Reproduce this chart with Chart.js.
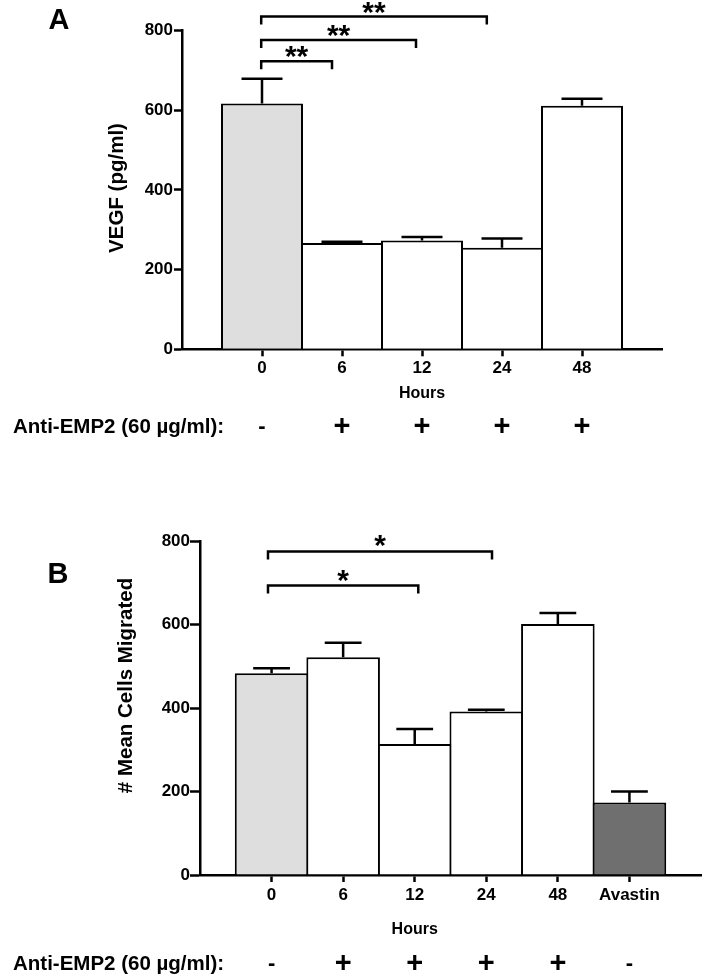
<!DOCTYPE html>
<html>
<head>
<meta charset="utf-8">
<title>VEGF / migração</title>
<script src="https://cdn.jsdelivr.net/npm/chart.js@4.4.1/dist/chart.umd.min.js"></script>
<style>
  html, body { margin: 0; padding: 0; background: #fff; }
  .panel { position: absolute; left: 0; width: 703px; }
</style>
</head>
<body>
<div class="panel" style="top:0;height:488px"><canvas id="chart-a" width="703" height="488"></canvas></div>
<div class="panel" style="top:488px;height:489px"><canvas id="chart-b" width="703" height="489"></canvas></div>
<script>
/* ---- dados ---- */
const yTicks = [0, 200, 400, 600, 800];

// painel A: VEGF
const hoursA = ['0', '6', '12', '24', '48'];
const vegfMean = [617, 267, 273, 255, 611];
const vegfSem = [62, 3, 9, 23, 18];
const treatA = ['-', '+', '+', '+', '+'];
const sigFromA = [0.99, 0.99, 0.99];
const sigToA = [1.875, 2.925, 3.81];
const sigYA = [723, 776, 835];
const sigLabelA = ['**', '**', '**'];

// painel B: células migradas
const groupsB = ['0', '6', '12', '24', '48', 'Avastin'];
const migMean = [484, 522, 314, 392, 602, 174];
const migSem = [12, 35, 36, 4, 26, 26];
const treatB = ['-', '+', '+', '+', '+', '-'];
const sigFromB = [0.95, 0.95];
const sigToB = [4.08, 3.05];
const sigYB = [776, 694];
const sigLabelB = ['*', '*'];

/* ---- estilo ---- */
const FONT = "'Liberation Sans', Arial, Helvetica, sans-serif";
const LIGHT = '#dedede';
const WHITE = '#ffffff';
const DARK = '#6f6f6f';

// barras de erro, chavetas de significância e textos soltos
const extrasPlugin = {
    id: 'extras',
    afterDraw(chart, args, o) {
        const { ctx, scales: { x, y } } = chart;
        const meta = chart.getDatasetMeta(0);
        ctx.save();
        ctx.strokeStyle = '#000';
        ctx.fillStyle = '#000';
        ctx.lineWidth = 2.5;

        /* SEM (só para cima) */
        o.sem.forEach((e, i) => {
            const bar = meta.data[i];
            const cap = y.getPixelForValue(o.mean[i] + e);
            const half = bar.width / 4;
            ctx.beginPath();
            ctx.moveTo(bar.x, bar.y);
            ctx.lineTo(bar.x, cap);
            ctx.moveTo(bar.x - half, cap);
            ctx.lineTo(bar.x + half, cap);
            ctx.stroke();
        });

        /* chavetas */
        ctx.font = `bold 30px ${FONT}`;
        ctx.textAlign = 'center';
        ctx.textBaseline = 'alphabetic';
        o.sigFrom.forEach((from, i) => {
            const x1 = x.getPixelForValue(from);
            const x2 = x.getPixelForValue(o.sigTo[i]);
            const yy = y.getPixelForValue(o.sigY[i]);
            ctx.beginPath();
            ctx.moveTo(x1, yy + 8);
            ctx.lineTo(x1, yy);
            ctx.lineTo(x2, yy);
            ctx.lineTo(x2, yy + 8);
            ctx.stroke();
            const m = ctx.measureText(o.sigLabel[i]);
            const cy = yy - o.starGap;
            ctx.fillText(o.sigLabel[i], (x1 + x2) / 2, cy + (m.actualBoundingBoxAscent - m.actualBoundingBoxDescent) / 2);
        });

        /* letra do painel */
        ctx.textBaseline = 'middle';
        ctx.font = `bold 29px ${FONT}`;
        ctx.fillText(o.letter.text, o.letter.x, o.letter.y);

        /* título do eixo y */
        ctx.save();
        ctx.translate(o.yTitle.x, o.yTitle.y);
        ctx.rotate(-Math.PI / 2);
        ctx.font = `bold 20.5px ${FONT}`;
        ctx.fillText(o.yTitle.text, 0, 0);
        ctx.restore();

        /* "Hours" centrado sobre as categorias de horas */
        ctx.font = `bold 16px ${FONT}`;
        const hx = (x.getPixelForValue(1) + x.getPixelForValue(o.hoursCount)) / 2;
        ctx.fillText('Hours', hx, o.hoursY);

        /* linha de tratamento */
        ctx.textAlign = 'left';
        ctx.font = `bold 20.5px ${FONT}`;
        ctx.fillText('Anti-EMP2 (60 µg/ml):', 13, o.treatY);
        ctx.textAlign = 'center';
        o.treat.forEach((t, i) => {
            ctx.font = t === '+' ? `bold 29px ${FONT}` : `bold 22px ${FONT}`;
            ctx.fillText(t, x.getPixelForValue(i + 1), o.treatY);
        });
        ctx.restore();
    },
};

function axisX(labels, height, tickPad) {
    return {
        type: 'linear',
        min: 0,
        max: labels.length + 1,
        offset: false,
        afterBuildTicks: (s) => { s.ticks = labels.map((_, i) => ({ value: i + 1 })); },
        afterFit: (s) => { s.height = height; },
        ticks: {
            autoSkip: false,
            maxRotation: 0,
            padding: tickPad,
            color: '#000',
            font: { family: FONT, size: 17, weight: 'bold' },
            callback: (v) => labels[v - 1],
        },
        grid: { drawOnChartArea: false, offset: false, tickLength: 7, tickWidth: 2.5, tickColor: '#000' },
        border: { color: '#000', width: 2.5 },
    };
}

function axisY(width, tickLen, tickPad) {
    return {
        min: 0,
        max: 800,
        afterBuildTicks: (s) => { s.ticks = yTicks.map(v => ({ value: v })); },
        afterFit: (s) => { s.width = width; },
        ticks: {
            padding: tickPad,
            color: '#000',
            font: { family: FONT, size: 17, weight: 'bold' },
        },
        grid: { drawOnChartArea: false, tickLength: tickLen, tickWidth: 2.5, tickColor: '#000' },
        border: { color: '#000', width: 2.5 },
    };
}

function makePanel(id, cfg) {
    return new Chart(document.getElementById(id), {
        type: 'bar',
        data: {
            datasets: [{
                data: cfg.mean.map((v, i) => ({ x: i + 1, y: v })),
                backgroundColor: cfg.colors,
                borderColor: '#000',
                borderWidth: 2,
                barPercentage: cfg.barPct,
                categoryPercentage: 1,
            }],
        },
        options: {
            responsive: false,
            animation: false,
            devicePixelRatio: 1,
            layout: { padding: cfg.padding },
            scales: { x: cfg.x, y: cfg.y },
            plugins: {
                legend: { display: false },
                tooltip: { enabled: false },
                extras: cfg.extras,
            },
        },
        plugins: [extrasPlugin],
    });
}

makePanel('chart-a', {
    mean: vegfMean,
    colors: [LIGHT, WHITE, WHITE, WHITE, WHITE],
    barPct: 1.025,
    padding: { left: 0, top: 30.5, right: 41, bottom: 0 },
    x: axisX(hoursA, 488 - 349.3, 2),
    y: axisY(182, 8, 1),
    extras: {
        mean: vegfMean, sem: vegfSem,
        sigFrom: sigFromA, sigTo: sigToA, sigY: sigYA, sigLabel: sigLabelA, starGap: 9,
        letter: { text: 'A', x: 59, y: 21 },
        yTitle: { text: 'VEGF (pg/ml)', x: 117, y: 188 },
        hoursCount: hoursA.length, hoursY: 394,
        treat: treatA, treatY: 427,
    },
});

makePanel('chart-b', {
    mean: migMean,
    colors: [LIGHT, WHITE, WHITE, WHITE, WHITE, DARK],
    barPct: 1.028,
    padding: { left: 0, top: 53.4, right: 2, bottom: 0 },
    x: axisX(groupsB, 489 - 387, 3),
    y: axisY(200, 10, 0),
    extras: {
        mean: migMean, sem: migSem,
        sigFrom: sigFromB, sigTo: sigToB, sigY: sigYB, sigLabel: sigLabelB, starGap: 10,
        letter: { text: 'B', x: 58, y: 87 },
        yTitle: { text: '# Mean Cells Migrated', x: 126, y: 197.5 },
        hoursCount: 5, hoursY: 441.3,
        treat: treatB, treatY: 476,
    },
});
</script>
</body>
</html>
